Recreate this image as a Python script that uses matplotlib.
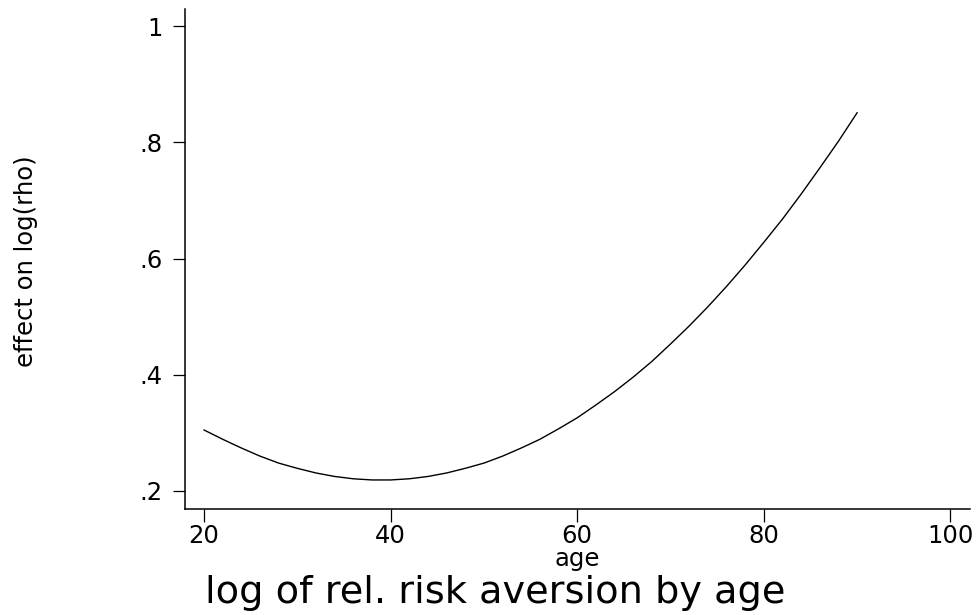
import matplotlib
matplotlib.use("Agg")
import matplotlib.pyplot as plt

# data
age = [20, 22, 24, 26, 28, 30, 32, 34, 36, 38, 40, 42, 44, 46, 48, 50, 52, 54,
       56, 58, 60, 62, 64, 66, 68, 70, 72, 74, 76, 78, 80, 82, 84, 86, 88, 90]
effect = [0.305, 0.289, 0.274, 0.260, 0.248, 0.239, 0.231, 0.225, 0.221, 0.219,
          0.219, 0.221, 0.225, 0.231, 0.239, 0.248, 0.260, 0.274, 0.289, 0.307,
          0.326, 0.348, 0.371, 0.396, 0.423, 0.453, 0.484, 0.517, 0.552, 0.589,
          0.628, 0.668, 0.711, 0.756, 0.802, 0.851]
x_ticks = [20, 40, 60, 80, 100]
x_tick_labels = ["20", "40", "60", "80", "100"]
y_ticks = [0.2, 0.4, 0.6, 0.8, 1.0]
y_tick_labels = [".2", ".4", ".6", ".8", "1"]

plt.rcParams['font.family'] = ['DejaVu Sans']

W, H = 976, 615
fig = plt.figure(figsize=(W / 100, H / 100), dpi=100)
L, R, B, T = 185, 970, 509, 9
ax = fig.add_axes([L / W, 1 - B / H, (R - L) / W, (B - T) / H])

ax.plot(age, effect, color='black', lw=1.0)

ax.set_xlim(17.96, 102.1)
ax.set_ylim(0.169, 1.0296)
ax.set_xticks(x_ticks)
ax.set_xticklabels(x_tick_labels)
ax.set_yticks(y_ticks)
ax.set_yticklabels(y_tick_labels)

for s in ['top', 'right']:
    ax.spines[s].set_visible(False)
for s in ['left', 'bottom']:
    ax.spines[s].set_linewidth(1.1)
ax.tick_params(axis='both', direction='out', length=9, width=0.9,
               labelsize=17.5, colors='black')
ax.tick_params(axis='x', pad=2)
ax.tick_params(axis='y', pad=7)

fig.text(577 / W, 1 - 566 / H, "age", ha='center', va='baseline', fontsize=17.5)
fig.text(26 / W, 1 - 261 / H, "effect on log(rho)", ha='center', va='center',
         rotation=90, fontsize=17.5)
fig.text(495 / W, 1 - 603 / H, "log of rel. risk aversion by age", ha='center',
         va='baseline', fontsize=27.5)

fig.savefig("out.png", dpi=100, facecolor='white')
